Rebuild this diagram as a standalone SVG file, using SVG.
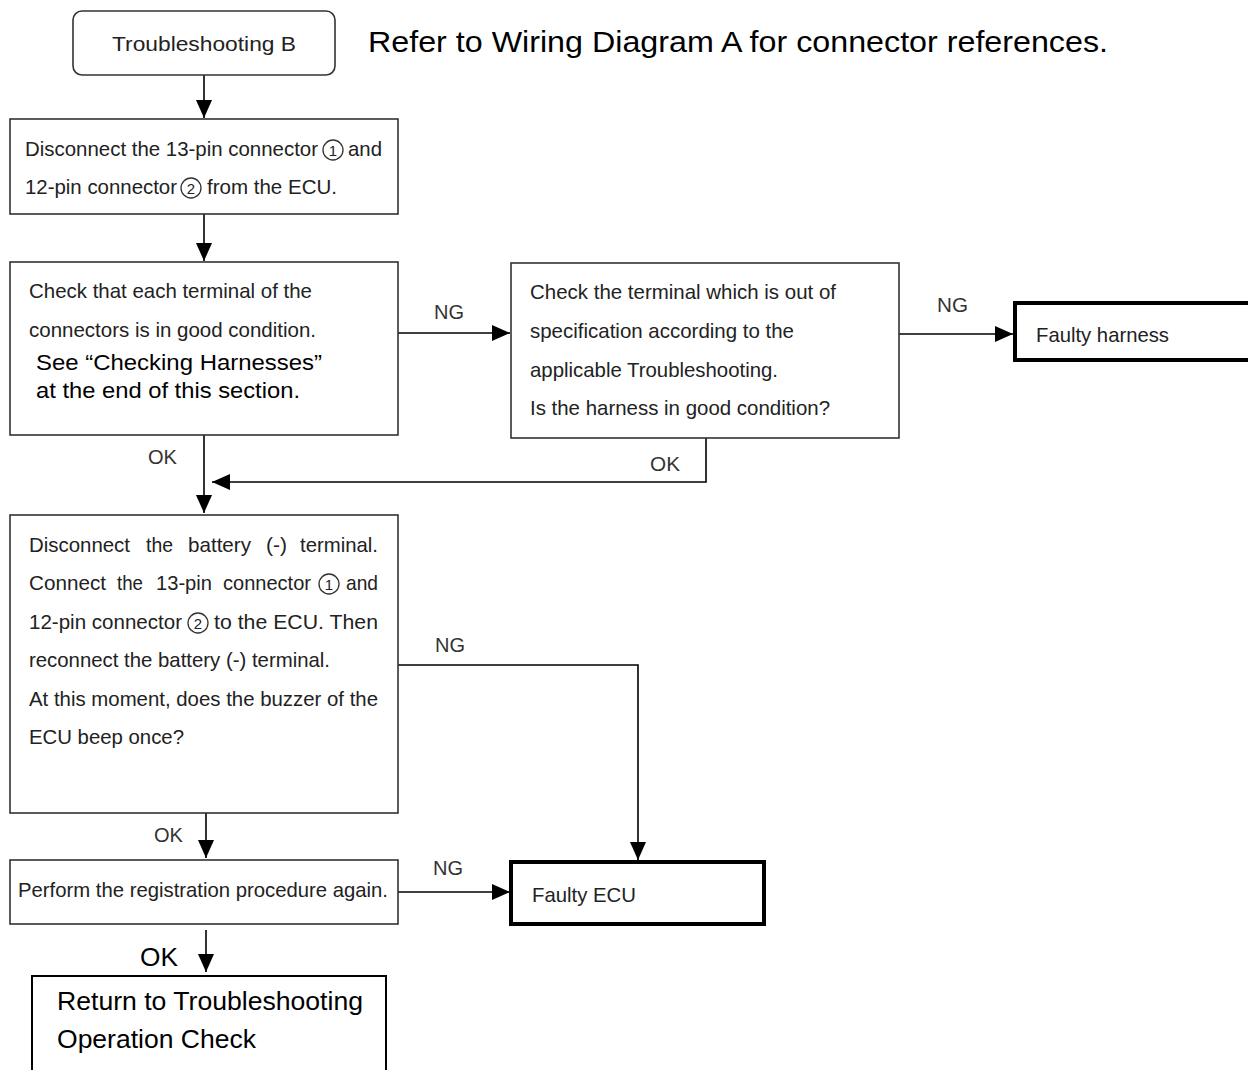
<svg xmlns="http://www.w3.org/2000/svg" width="1248" height="1070" viewBox="0 0 1248 1070">
<defs>
<marker id="ah" markerUnits="userSpaceOnUse" markerWidth="20" markerHeight="16" refX="18" refY="8" orient="auto">
<path d="M0,0 L18,8 L0,16 Z" fill="#000"/>
</marker>
<style>
.box{fill:#fff;stroke:#333;stroke-width:1.6}
.bold{fill:#fff;stroke:#000;stroke-width:4}
.t{font-family:"Liberation Sans",Arial,sans-serif;font-size:21px;fill:#222}
.a{font-family:"Liberation Sans",Arial,sans-serif;fill:#000}
.cc{fill:none;stroke:#333;stroke-width:1.3}
.cd{font-family:"Liberation Sans",Arial,sans-serif;font-size:15px;fill:#222;text-anchor:middle}
.lbl{font-family:"Liberation Sans",Arial,sans-serif;font-size:20px;fill:#333}
.ln{fill:none;stroke:#000;stroke-width:1.6}
</style>
</defs>
<rect width="1248" height="1070" fill="#fff"/>
<text class="a" x="368" y="52" font-size="30" textLength="740" lengthAdjust="spacingAndGlyphs">Refer to Wiring Diagram A for connector references.</text>

<g id="connectors">
<line class="ln" x1="204" y1="75" x2="204" y2="118" marker-end="url(#ah)"/>
<line class="ln" x1="204" y1="214" x2="204" y2="261" marker-end="url(#ah)"/>
<line class="ln" x1="398" y1="333" x2="510" y2="333" marker-end="url(#ah)"/>
<line class="ln" x1="899" y1="334" x2="1013" y2="334" marker-end="url(#ah)"/>
<polyline class="ln" points="706,438 706,482 212,482" marker-end="url(#ah)"/>
<line class="ln" x1="204" y1="435" x2="204" y2="513" marker-end="url(#ah)"/>
<polyline class="ln" points="398,665 638,665 638,860" marker-end="url(#ah)"/>
<line class="ln" x1="206" y1="813" x2="206" y2="858" marker-end="url(#ah)"/>
<line class="ln" x1="398" y1="892" x2="510" y2="892" marker-end="url(#ah)"/>
<line class="ln" x1="206" y1="930" x2="206" y2="972" marker-end="url(#ah)"/>
<text class="lbl" x="434" y="319" textLength="30" lengthAdjust="spacingAndGlyphs">NG</text>
<text class="lbl" x="937" y="312" textLength="31" lengthAdjust="spacingAndGlyphs">NG</text>
<text class="lbl" x="148" y="464" textLength="29" lengthAdjust="spacingAndGlyphs">OK</text>
<text class="lbl" x="650" y="471" textLength="30" lengthAdjust="spacingAndGlyphs">OK</text>
<text class="lbl" x="435" y="652" textLength="30" lengthAdjust="spacingAndGlyphs">NG</text>
<text class="lbl" x="154" y="842" textLength="29" lengthAdjust="spacingAndGlyphs">OK</text>
<text class="lbl" x="433" y="875" textLength="30" lengthAdjust="spacingAndGlyphs">NG</text>
<text class="a" x="140" y="966" font-size="26" textLength="38" lengthAdjust="spacingAndGlyphs">OK</text>
</g>

<g id="start">
<rect x="73" y="11" width="262" height="64" rx="9" class="box"/>
<text class="t" x="112" y="51" textLength="184" lengthAdjust="spacingAndGlyphs">Troubleshooting B</text>
</g>

<g id="disconnect">
<rect x="10" y="119" width="388" height="95" class="box"/>
<text class="t" x="25" y="156" textLength="293" lengthAdjust="spacingAndGlyphs">Disconnect the 13-pin connector</text>
<circle class="cc" cx="333" cy="150" r="10"/>
<text class="cd" x="333" y="155.5">1</text>
<text class="t" x="348" y="156" textLength="34" lengthAdjust="spacingAndGlyphs">and</text>
<text class="t" x="25" y="194" textLength="152" lengthAdjust="spacingAndGlyphs">12-pin connector</text>
<circle class="cc" cx="191" cy="188" r="10"/>
<text class="cd" x="191" y="193.5">2</text>
<text class="t" x="207" y="194" textLength="130" lengthAdjust="spacingAndGlyphs">from the ECU.</text>
</g>

<g id="check-terminals">
<rect x="10" y="262" width="388" height="173" class="box"/>
<text class="t" x="29" y="298" textLength="283" lengthAdjust="spacingAndGlyphs">Check that each terminal of the</text>
<text class="t" x="29" y="337" textLength="287" lengthAdjust="spacingAndGlyphs">connectors is in good condition.</text>
<text class="a" x="36" y="370" font-size="22.5" textLength="286" lengthAdjust="spacingAndGlyphs">See “Checking Harnesses”</text>
<text class="a" x="36" y="398" font-size="22.5" textLength="264" lengthAdjust="spacingAndGlyphs">at the end of this section.</text>
</g>

<g id="check-spec">
<rect x="511" y="263" width="388" height="175" class="box"/>
<text class="t" x="530" y="299" textLength="306" lengthAdjust="spacingAndGlyphs">Check the terminal which is out of</text>
<text class="t" x="530" y="338" textLength="264" lengthAdjust="spacingAndGlyphs">specification according to the</text>
<text class="t" x="530" y="377" textLength="248" lengthAdjust="spacingAndGlyphs">applicable Troubleshooting.</text>
<text class="t" x="530" y="415" textLength="300" lengthAdjust="spacingAndGlyphs">Is the harness in good condition?</text>
</g>

<g id="faulty-harness">
<rect x="1015" y="303" width="240" height="57" class="bold"/>
<text class="t" x="1036" y="342" textLength="133" lengthAdjust="spacingAndGlyphs">Faulty harness</text>
</g>

<g id="reconnect">
<rect x="10" y="515" width="388" height="298" class="box"/>
<text class="t" x="29" y="552" textLength="101" lengthAdjust="spacingAndGlyphs">Disconnect</text>
<text class="t" x="146" y="552" textLength="27" lengthAdjust="spacingAndGlyphs">the</text>
<text class="t" x="188" y="552" textLength="63" lengthAdjust="spacingAndGlyphs">battery</text>
<text class="t" x="266" y="552" textLength="21" lengthAdjust="spacingAndGlyphs">(-)</text>
<text class="t" x="300" y="552" textLength="78" lengthAdjust="spacingAndGlyphs">terminal.</text>
<text class="t" x="29" y="590" textLength="77" lengthAdjust="spacingAndGlyphs">Connect</text>
<text class="t" x="117" y="590" textLength="26" lengthAdjust="spacingAndGlyphs">the</text>
<text class="t" x="156" y="590" textLength="56" lengthAdjust="spacingAndGlyphs">13-pin</text>
<text class="t" x="223" y="590" textLength="88" lengthAdjust="spacingAndGlyphs">connector</text>
<circle class="cc" cx="329" cy="584" r="10"/>
<text class="cd" x="329" y="589.5">1</text>
<text class="t" x="346" y="590" textLength="32" lengthAdjust="spacingAndGlyphs">and</text>
<text class="t" x="29" y="629" textLength="153" lengthAdjust="spacingAndGlyphs">12-pin connector</text>
<circle class="cc" cx="198" cy="623" r="10"/>
<text class="cd" x="198" y="628.5">2</text>
<text class="t" x="214" y="629" textLength="164" lengthAdjust="spacingAndGlyphs">to the ECU. Then</text>
<text class="t" x="29" y="667" textLength="301" lengthAdjust="spacingAndGlyphs">reconnect the battery (-) terminal.</text>
<text class="t" x="29" y="706" textLength="349" lengthAdjust="spacingAndGlyphs">At this moment, does the buzzer of the</text>
<text class="t" x="29" y="744" textLength="155" lengthAdjust="spacingAndGlyphs">ECU beep once?</text>
</g>

<g id="registration">
<rect x="10" y="860" width="388" height="64" class="box"/>
<text class="t" x="18" y="897" textLength="370" lengthAdjust="spacingAndGlyphs">Perform the registration procedure again.</text>
</g>

<g id="faulty-ecu">
<rect x="511" y="862" width="253" height="62" class="bold"/>
<text class="t" x="532" y="902" textLength="104" lengthAdjust="spacingAndGlyphs">Faulty ECU</text>
</g>

<g id="return">
<rect x="32" y="976" width="354" height="100" fill="#fff" stroke="#000" stroke-width="2"/>
<text class="a" x="57" y="1010" font-size="25" textLength="306" lengthAdjust="spacingAndGlyphs">Return to Troubleshooting</text>
<text class="a" x="57" y="1048" font-size="25" textLength="199" lengthAdjust="spacingAndGlyphs">Operation Check</text>
</g>
</svg>
